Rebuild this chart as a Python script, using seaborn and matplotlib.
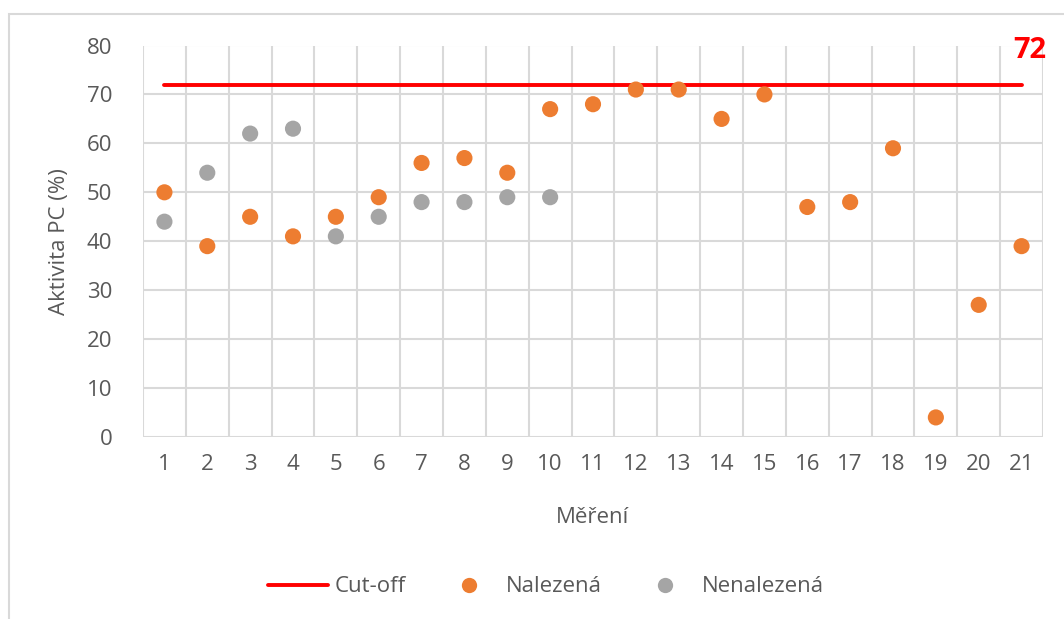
import numpy as np
import pandas as pd
import matplotlib
matplotlib.use("Agg")
import matplotlib.pyplot as plt
from matplotlib.patches import Rectangle
from matplotlib.lines import Line2D
import seaborn as sns

# ---- data ----
mereni = list(range(1, 22))
nalezena = [50, 39, 45, 41, 45, 49, 56, 57, 54, 67, 68, 71, 71, 65, 70, 47, 48, 59, 4, 27, 39]
nenalezena_x = [1, 2, 3, 4, 5, 6, 7, 8, 9, 10]
nenalezena = [44, 54, 62, 63, 41, 45, 48, 48, 49, 49]
cutoff_value = 72
yticks = [0, 10, 20, 30, 40, 50, 60, 70, 80]

sns.set_theme(style="white")
plt.rcParams['font.family'] = ['Open Sans', 'DejaVu Sans']

ORANGE = "#ED7D31"
GRAY = "#A5A5A5"
RED = "#FF0000"
GRID = "#D9D9D9"
TXT = "#595959"

fig = plt.figure(figsize=(10.64, 6.19), dpi=100)
# chart frame
fig.patches.append(Rectangle((9/1064, -0.2), 2.0, 1.2 - 14/619, transform=fig.transFigure,
                             fill=False, edgecolor=GRID, linewidth=1.5, zorder=0))
ax = fig.add_axes([143/1064, 1 - 437/619, 900/1064, (437 - 45.5)/619])

df_cut = pd.DataFrame({"x": mereni, "y": [cutoff_value] * len(mereni)})
df_pts = pd.concat([
    pd.DataFrame({"x": mereni, "y": nalezena, "s": "Nalezená"}),
    pd.DataFrame({"x": nenalezena_x, "y": nenalezena, "s": "Nenalezená"}),
])

sns.lineplot(data=df_cut, x="x", y="y", color=RED, linewidth=2.8, ax=ax, zorder=3)
sns.scatterplot(data=df_pts, x="x", y="y", hue="s", palette={"Nalezená": ORANGE, "Nenalezená": GRAY},
                s=135, edgecolor="none", ax=ax, zorder=4, legend=False)

ax.set_xlim(0.5, 21.5)
ax.set_ylim(0, 80)
ax.set_xticks(mereni)
ax.set_xticks(np.arange(0.5, 22, 1), minor=True)
ax.set_yticks(yticks)
ax.grid(True, which="minor", axis="x", color=GRID, linewidth=1.5, zorder=0)
ax.grid(True, which="major", axis="y", color=GRID, linewidth=1.5, zorder=0)
ax.grid(False, which="major", axis="x")
for sp in ax.spines.values():
    sp.set_visible(False)
ax.tick_params(axis="both", which="both", length=0, labelsize=16, labelcolor=TXT)
ax.tick_params(axis="x", pad=12)
ax.tick_params(axis="y", pad=22)
ax.set_xlabel("Měření", fontsize=16, color=TXT, labelpad=23)
ax.set_ylabel("Aktivita PC (%)", fontsize=16, color=TXT, labelpad=12)

ax.text(21.57, 78.9, str(cutoff_value), color=RED, fontsize=21, fontweight="bold",
        ha="right", va="center", clip_on=False)

handles = [
    Line2D([0], [0], color=RED, linewidth=2.8),
    Line2D([0], [0], marker="o", linestyle="none", markerfacecolor=ORANGE, markeredgecolor="none", markersize=11),
    Line2D([0], [0], marker="o", linestyle="none", markerfacecolor=GRAY, markeredgecolor="none", markersize=11),
]
fig.legend(handles, ["Cut-off", "Nalezená", "Nenalezená"], loc="center", bbox_to_anchor=(546/1064, 1 - 587/619),
           ncol=3, frameon=False, fontsize=16, labelcolor=TXT, handlelength=2.7, handletextpad=0.3,
           columnspacing=1.5)

fig.savefig("out.png", dpi=100, facecolor="white")
